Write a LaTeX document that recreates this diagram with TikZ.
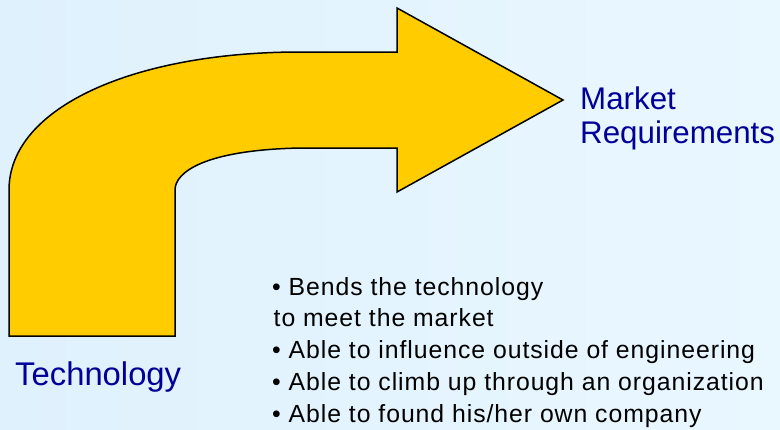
\documentclass[tikz,border=0pt]{standalone}
\usepackage{fontspec}
\setmainfont{Liberation Sans}
\newfontfamily\bulletfont[LetterSpace=3.8]{Liberation Sans}
\definecolor{arrowgold}{RGB}{255,204,0}
\definecolor{labelblue}{RGB}{0,0,153}
\definecolor{bgleft}{RGB}{223,241,253}
\definecolor{bgright}{RGB}{233,247,255}
\begin{document}
\begin{tikzpicture}[x=1pt,y=-1pt,
  bigarrow/.style={fill=arrowgold,draw=black,line width=1.5pt,line join=miter},
  biglabel/.style={inner sep=0pt,anchor=base west,text=labelblue,font=\fontsize{31.3}{34}\selectfont},
  bulletline/.style={inner sep=0pt,anchor=base west,text=black,font=\bulletfont\fontsize{24.8}{31.75}\selectfont}]
  % background
  \shade[left color=bgleft,right color=bgright] (0,0) rectangle (780,429);
  \useasboundingbox (0,0) rectangle (780,429);

  % bent arrow: vertical stem turning right into a wide head
  \path[bigarrow]
    (9,336) -- (9,190)
    .. controls (9,107) and (135,52) .. (300,52)
    -- (397,52) -- (397,8) -- (563,100) -- (397,192) -- (397,148)
    -- (300,148)
    .. controls (205,150) and (175,172) .. (175,190)
    -- (175,336) -- cycle;

  % end labels
  \node[biglabel] (mkt) at (580,109) {Market};
  \node[biglabel] (req) at (580,143) {Requirements};
  \node[biglabel,font=\fontsize{32.8}{34}\selectfont] (tech) at (15,385) {Technology};

  % bullet list
  \node[bulletline] (b1) at (272,295)      {• Bends the technology};
  \node[bulletline] (b2) at (273.5,326.75) {to meet the market};
  \node[bulletline] (b3) at (272,358.5)    {• Able to influence outside of engineering};
  \node[bulletline] (b4) at (272,390.25)   {• Able to climb up through an organization};
  \node[bulletline] (b5) at (272,422)      {• Able to found his/her own company};
\end{tikzpicture}
\end{document}
